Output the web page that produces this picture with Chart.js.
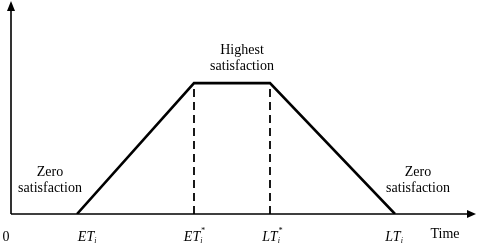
<!DOCTYPE html>
<html>
<head>
<meta charset="utf-8">
<script src="https://cdn.jsdelivr.net/npm/chart.js@4.4.0/dist/chart.umd.min.js"></script>
<style>
  html, body { margin: 0; padding: 0; background: #fff; }
  #wrap { width: 480px; height: 247px; }
</style>
</head>
<body>
<div id="wrap"><canvas id="satChart" width="480" height="247"></canvas></div>
<script>
// time marks along the horizontal axis
const tickNames = ['ET', 'ET', 'LT', 'LT'];
const tickStars = [false, true, true, false];
const timeValues = [6.6, 18.3, 25.9, 38.4];
// satisfaction level at each mark
const satisfaction = [0, 1, 1, 0];
const axisMax = { x: 46.7, y: 1.62 };

const trapezoid = timeValues.map((t, i) => ({ x: t, y: satisfaction[i] }));
const dashed1 = [{ x: timeValues[1], y: 0 }, { x: timeValues[1], y: satisfaction[1] }];
const dashed2 = [{ x: timeValues[2], y: 0 }, { x: timeValues[2], y: satisfaction[2] }];

const serif = '"Liberation Serif", "DejaVu Serif", serif';

// axes with arrow heads + all annotation text
const decorPlugin = {
    id: 'decor',
    afterDraw(chart) {
        const ctx = chart.ctx;
        const xs = chart.scales.x, ys = chart.scales.y;
        const x0 = xs.getPixelForValue(0), y0 = ys.getPixelForValue(0);
        const xEnd = xs.getPixelForValue(axisMax.x) - 2, yTop = ys.getPixelForValue(axisMax.y);

        ctx.save();
        ctx.strokeStyle = '#000';
        ctx.fillStyle = '#000';
        ctx.lineWidth = 1.6;
        ctx.beginPath();
        ctx.moveTo(x0, y0);
        ctx.lineTo(x0, yTop + 6);
        ctx.moveTo(x0, y0);
        ctx.lineTo(xEnd - 6, y0);
        ctx.stroke();

        // arrow heads
        ctx.beginPath();
        ctx.moveTo(x0, yTop - 1);
        ctx.lineTo(x0 - 4, yTop + 9);
        ctx.lineTo(x0 + 4, yTop + 9);
        ctx.closePath();
        ctx.fill();
        ctx.beginPath();
        ctx.moveTo(xEnd, y0);
        ctx.lineTo(xEnd - 9, y0 - 4);
        ctx.lineTo(xEnd - 9, y0 + 4);
        ctx.closePath();
        ctx.fill();

        // tick labels (first one sits a bit right of its mark in the original)
        const shift = [11, 0, 2, 0];
        const labelY = y0 + 23;
        ctx.textBaseline = 'middle';
        ctx.font = '14px ' + serif;
        ctx.textAlign = 'center';
        ctx.fillText('0', x0 - 5, labelY);
        tickNames.forEach((name, i) => {
            const px = xs.getPixelForValue(timeValues[i]) + shift[i];
            ctx.font = 'italic 14px ' + serif;
            const w = ctx.measureText(name).width;
            const left = px - w / 2 - 2;
            ctx.textAlign = 'left';
            ctx.fillText(name, left, labelY);
            ctx.font = 'italic 8px ' + serif;
            ctx.fillText('i', left + w, labelY + 4);
            if (tickStars[i]) ctx.fillText('*', left + w + 0.5, labelY - 6);
        });
        ctx.font = '14px ' + serif;
        ctx.textAlign = 'center';
        ctx.fillText('Time', 445, y0 + 20);

        // region notes
        const notes = [
            { lines: ['Zero', 'satisfaction'], x: 50, y: 172 },
            { lines: ['Zero', 'satisfaction'], x: 418, y: 172 },
            { lines: ['Highest', 'satisfaction'], x: 242, y: 50 }
        ];
        notes.forEach(n => {
            n.lines.forEach((t, k) => ctx.fillText(t, n.x, n.y + k * 16));
        });
        ctx.restore();
    }
};

new Chart(document.getElementById('satChart'), {
    type: 'scatter',
    data: {
        datasets: [
            { data: trapezoid, showLine: true, borderColor: '#000', borderWidth: 2.6, pointRadius: 0, tension: 0 },
            { data: dashed1, showLine: true, borderColor: '#000', borderWidth: 1.8, borderDash: [8, 5], pointRadius: 0 },
            { data: dashed2, showLine: true, borderColor: '#000', borderWidth: 1.8, borderDash: [8, 5], pointRadius: 0 }
        ]
    },
    options: {
        responsive: false,
        animation: false,
        layout: { padding: { left: 11, right: 2, top: 2, bottom: 33 } },
        scales: {
            x: { type: 'linear', min: 0, max: axisMax.x, display: false },
            y: { type: 'linear', min: 0, max: axisMax.y, display: false }
        },
        plugins: { legend: { display: false }, tooltip: { enabled: false } }
    },
    plugins: [decorPlugin]
});
</script>
</body>
</html>
